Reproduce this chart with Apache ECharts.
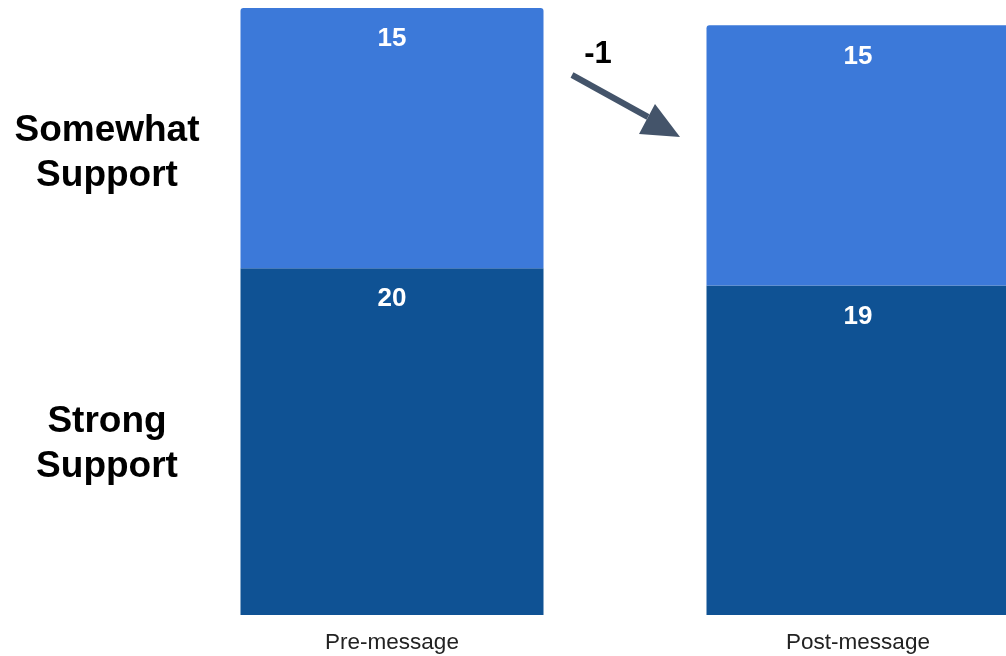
<!DOCTYPE html>
<html>
<head>
<meta charset="utf-8">
<script src="https://cdn.jsdelivr.net/npm/echarts@6/dist/echarts.min.js"></script>
<style>
html,body{margin:0;padding:0;background:#fff;}
#chart{width:1006px;height:656px;}
</style>
</head>
<body>
<div id="chart"></div>
<script>
const categories = ['Pre-message', 'Post-message'];
const strongSupport = [20, 19];
const somewhatSupport = [15, 15];
const seriesNames = ['Strong\nSupport', 'Somewhat\nSupport'];
const changeLabel = '-1';

const chart = echarts.init(document.getElementById('chart'));
const FONT = '"Liberation Sans", Arial, sans-serif';

const labelStyle = {
  show: true,
  position: 'insideTop',
  distance: 18,
  color: '#ffffff',
  fontSize: 26,
  fontWeight: 'bold',
  fontFamily: FONT
};

chart.setOption({
  animation: false,
  backgroundColor: '#ffffff',
  grid: { left: 392, right: 148, top: 8, bottom: 41, containLabel: false },
  xAxis: {
    type: 'category',
    data: categories,
    boundaryGap: false,
    axisLine: { show: false },
    axisTick: { show: false },
    splitLine: { show: false },
    axisLabel: { color: '#222222', fontSize: 22.5, fontFamily: FONT, margin: 16 }
  },
  yAxis: {
    type: 'value', min: 0, max: 35,
    show: false,
    splitLine: { show: false }
  },
  series: [
    {
      name: 'Strong Support', type: 'bar', stack: 'total', barWidth: 303, clip: false,
      data: strongSupport,
      itemStyle: { color: '#0f5294' },
      label: labelStyle
    },
    {
      name: 'Somewhat Support', type: 'bar', stack: 'total', barWidth: 303, clip: false,
      data: somewhatSupport,
      itemStyle: { color: '#3c79d9', borderRadius: [3, 3, 0, 0] },
      label: labelStyle
    }
  ],
  graphic: [
    {
      type: 'text', z: 100,
      x: 107, y: 153,
      style: {
        text: seriesNames[1],
        align: 'center', verticalAlign: 'middle',
        fontSize: 37, fontWeight: 'bold', lineHeight: 45,
        fontFamily: FONT, fill: '#000000'
      }
    },
    {
      type: 'text', z: 100,
      x: 107, y: 444,
      style: {
        text: seriesNames[0],
        align: 'center', verticalAlign: 'middle',
        fontSize: 37, fontWeight: 'bold', lineHeight: 45,
        fontFamily: FONT, fill: '#000000'
      }
    },
    {
      type: 'text', z: 100,
      x: 598, y: 54,
      style: {
        text: changeLabel,
        align: 'center', verticalAlign: 'middle',
        fontSize: 31, fontWeight: 'bold',
        fontFamily: FONT, fill: '#000000'
      }
    },
    {
      type: 'line', z: 100,
      shape: { x1: 572, y1: 75, x2: 648, y2: 117 },
      style: { stroke: '#44546a', lineWidth: 6 }
    },
    {
      type: 'polygon', z: 100,
      shape: { points: [[680, 137], [639, 134], [655, 104]] },
      style: { fill: '#44546a' }
    }
  ]
});
</script>
</body>
</html>
